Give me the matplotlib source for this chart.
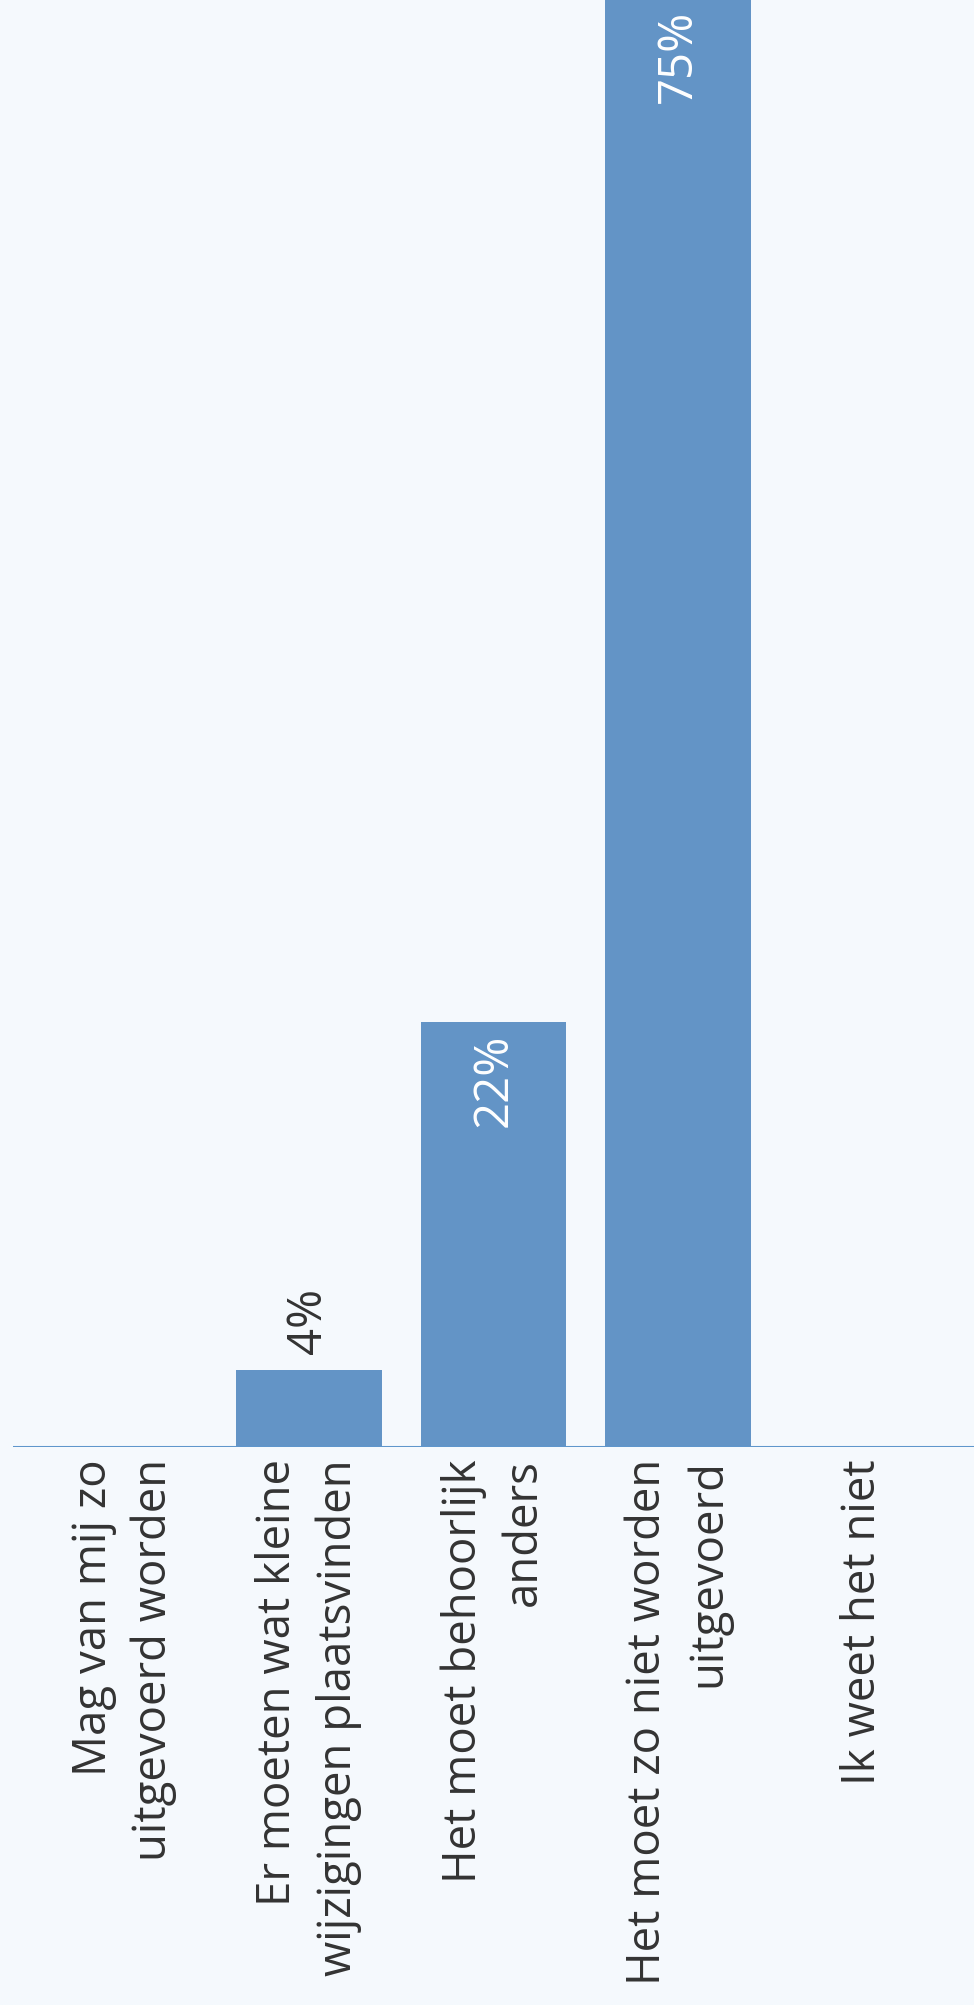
import numpy as np
import matplotlib
matplotlib.use('Agg')
import matplotlib.pyplot as plt
import matplotlib.transforms as mtransforms

plt.rcParams['font.family'] = ['Open Sans', 'DejaVu Sans']

categories = ['Mag van mij zo\nuitgevoerd worden',
              'Er moeten wat kleine\nwijzigingen plaatsvinden',
              'Het moet behoorlijk\nanders',
              'Het moet zo niet worden\nuitgevoerd',
              'Ik weet het niet']
values = [0, 4, 22, 75, 0]
value_labels = ['', '4%', '22%', '75%', '']

bg = '#f5f9fd'
bar_color = '#6394c6'
line_color = '#5f96cc'
text_color = '#333333'

W, H = 974, 2006
fig = plt.figure(figsize=(W / 100, H / 100), dpi=100)
fig.patch.set_facecolor(bg)
ax = fig.add_axes([13 / W, (H - 1448) / H, 961 / W, 1448 / H])
ax.set_facecolor(bg)

x = np.arange(len(categories))
ax.bar(x, values, width=0.79, color=bar_color, zorder=2)
ax.axhline(0, color=line_color, lw=2.2, zorder=3)

ax.set_xlim(-0.6, 4.6)
ax.set_ylim(0, 75)
for s in ax.spines.values():
    s.set_visible(False)
ax.set_yticks([])
ax.set_xticks(x)
ax.set_xticklabels(categories, rotation=90, ha='center', va='top',
                   multialignment='right', fontsize=32.8, color=text_color,
                   linespacing=1.4)
ax.tick_params(axis='x', length=0, pad=8)

# value labels: outside small bars, inside big ones
for xi, v, lab in zip(x, values, value_labels):
    if not lab:
        continue
    if v < 10:
        off = mtransforms.offset_copy(ax.transData, fig=fig, x=0, y=17, units='dots')
        ax.text(xi, v, lab, rotation=90, ha='center', va='bottom',
                fontsize=34, color=text_color, transform=off)
    else:
        off = mtransforms.offset_copy(ax.transData, fig=fig, x=0, y=-10, units='dots')
        ax.text(xi, v, lab, rotation=90, ha='center', va='top',
                fontsize=34, color='white', transform=off)

fig.savefig('out.png', dpi=100, facecolor=bg)
